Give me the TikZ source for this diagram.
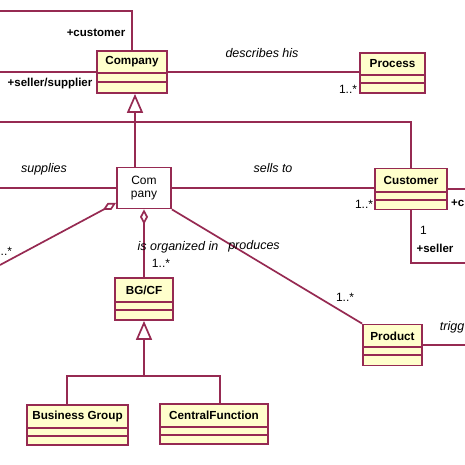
\documentclass[tikz,border=0pt]{standalone}
\usepackage{fontspec}
\setmainfont{Liberation Sans}
\usetikzlibrary{arrows.meta,calc}
\definecolor{umlline}{RGB}{150,42,82}
\definecolor{umlfill}{RGB}{255,255,204}
\tikzset{
  cls/.style={draw=umlline, fill=umlfill, line width=1.8pt, rectangle, inner sep=0pt},
  wcls/.style={draw=umlline, fill=white, line width=1.8pt, rectangle, inner sep=0pt},
  comp/.style={draw=umlline, line width=1.5pt},
  conn/.style={draw=umlline, line width=1.7pt},
  cname/.style={font=\fontsize{11.7}{13}\selectfont\bfseries, inner sep=0pt},
  role/.style={font=\fontsize{11.5}{13}\selectfont\bfseries, inner sep=0pt},
  assoc/.style={font=\fontsize{12.5}{14}\selectfont\itshape, inner sep=0pt},
  mult/.style={font=\fontsize{12}{14}\selectfont, inner sep=0pt},
  gen/.style={conn, -{Triangle[open, length=19pt, width=16pt, fill=white]}},
  agg/.style={conn, -{Diamond[open, length=15pt, width=8pt, fill=white]}}
}
\begin{document}
\begin{tikzpicture}[x=1pt,y=-1pt]
\useasboundingbox (0,0) rectangle (465,465);

% classes
\node[cls, minimum width=70pt, minimum height=42pt] (company) at (132,72) {};
\node[cls, minimum width=65pt, minimum height=40pt] (process) at (392.5,73) {};
\node[wcls, minimum width=54pt, minimum height=41pt] (company2) at (144,188) {};
\node[cls, minimum width=72pt, minimum height=41pt] (customer) at (411,189) {};
\node[cls, minimum width=58pt, minimum height=42pt] (bgcf) at (144,299) {};
\node[cls, minimum width=59pt, minimum height=41pt] (product) at (392.5,345) {};
\node[cls, minimum width=101pt, minimum height=40pt] (bu) at (77.5,425) {};
\node[cls, minimum width=108pt, minimum height=40pt] (cf) at (214,424) {};

% compartments
\draw[comp] (company.west |- 0,73) -- (company.east |- 0,73);
\draw[comp] (company.west |- 0,82) -- (company.east |- 0,82);
\draw[comp] (process.west |- 0,75) -- (process.east |- 0,75);
\draw[comp] (process.west |- 0,83) -- (process.east |- 0,83);
\draw[comp] (customer.west |- 0,192) -- (customer.east |- 0,192);
\draw[comp] (customer.west |- 0,200) -- (customer.east |- 0,200);
\draw[comp] (bgcf.west |- 0,302) -- (bgcf.east |- 0,302);
\draw[comp] (bgcf.west |- 0,310) -- (bgcf.east |- 0,310);
\draw[comp] (product.west |- 0,347) -- (product.east |- 0,347);
\draw[comp] (product.west |- 0,355) -- (product.east |- 0,355);
\draw[comp] (bu.west |- 0,428) -- (bu.east |- 0,428);
\draw[comp] (bu.west |- 0,436) -- (bu.east |- 0,436);
\draw[comp] (cf.west |- 0,427) -- (cf.east |- 0,427);
\draw[comp] (cf.west |- 0,435) -- (cf.east |- 0,435);

% class names
\node[cname] (ncompany) at (company.center |- 0,62) {Company};
\node[cname] (nprocess) at (process.center |- 0,63.5) {Process};
\node[font=\fontsize{12}{14}\selectfont, align=center, inner sep=0pt] (ncompany2) at (company2.center) {Com\\[-1.5pt]pany};
\node[cname] (ncustomer) at (customer.center |- 0,180) {Customer};
\node[cname] (nbgcf) at (bgcf.center |- 0,290) {BG/CF};
\node[cname] (nproduct) at (product.center |- 0,336) {Product};
\node[cname] (nbu) at (bu.center |- 0,416) {Business Group};
\node[cname] (ncf) at (cf.center |- 0,415) {CentralFunction};

% free ends
\coordinate (topl) at (0,11);
\coordinate (sellerl) at (0,72);
\coordinate (genl) at (0,122);
\coordinate (genj) at (135,122);
\coordinate (suppl) at (0,188);
\coordinate (custr) at (465,189);
\coordinate (sellerr) at (465,263);
\coordinate (aggl) at (0,265);
\coordinate (prodr) at (465,345);
\coordinate (bgj) at (144,376);

% connectors
\draw[conn] (topl) -| (company.north);
\draw[conn] (sellerl) -- (company.west);
\draw[conn] (company.east) -- (company.east -| process.west);
\draw[gen] (genj) -- (genj |- company.south);
\draw[conn] (genl) -| (customer.north);
\draw[conn] (genj) -- (genj |- company2.north);
\draw[conn] (suppl) -- (company2.west);
\draw[conn] (company2.east) -- (company2.east -| customer.west);
\draw[conn] (customer.east) -- (custr);
\draw[conn] (customer.south) |- (sellerr);
\draw[agg] (aggl) -- (company2.208);
\draw[agg] (bgcf.north) -- (company2.south);
\draw[conn] (company2.south east) -- (product.north west);
\draw[conn] (product.east) -- (prodr);
\draw[gen] (bgj) -- (bgcf.south);
\draw[conn] (bu.north -| 67,0) |- (bgj) -| (cf.north -| 220,0);

% labels
\node[role] (lcust) at (96,33) {+customer};
\node[role] (lseller) at (50,84) {+seller/supplier};
\node[assoc] (ldesc) at (262,53) {describes his};
\node[mult] (mproc) at (348,89) {1..*};
\node[assoc] (lsupp) at (44,169) {supplies};
\node[assoc] (lsells) at (273,168) {sells to};
\node[mult] (mcust) at (364,204) {1..*};
\node[role, anchor=east] (lc) at (464.5,203) {+c};
\node[mult, anchor=west] (mone) at (420,230) {1};
\node[role] (lseller2) at (435,248) {+seller};
\node[mult, anchor=west] (mleft) at (0.5,251) {..*};
\node[assoc] (lorg) at (178,247) {is organized in};
\node[assoc] (lprod) at (254,246) {produces};
\node[mult] (mbg) at (161,263) {1..*};
\node[mult] (mprod) at (345,297) {1..*};
\node[assoc, anchor=east] (ltrig) at (464.5,327) {trigg};
\end{tikzpicture}
\end{document}
